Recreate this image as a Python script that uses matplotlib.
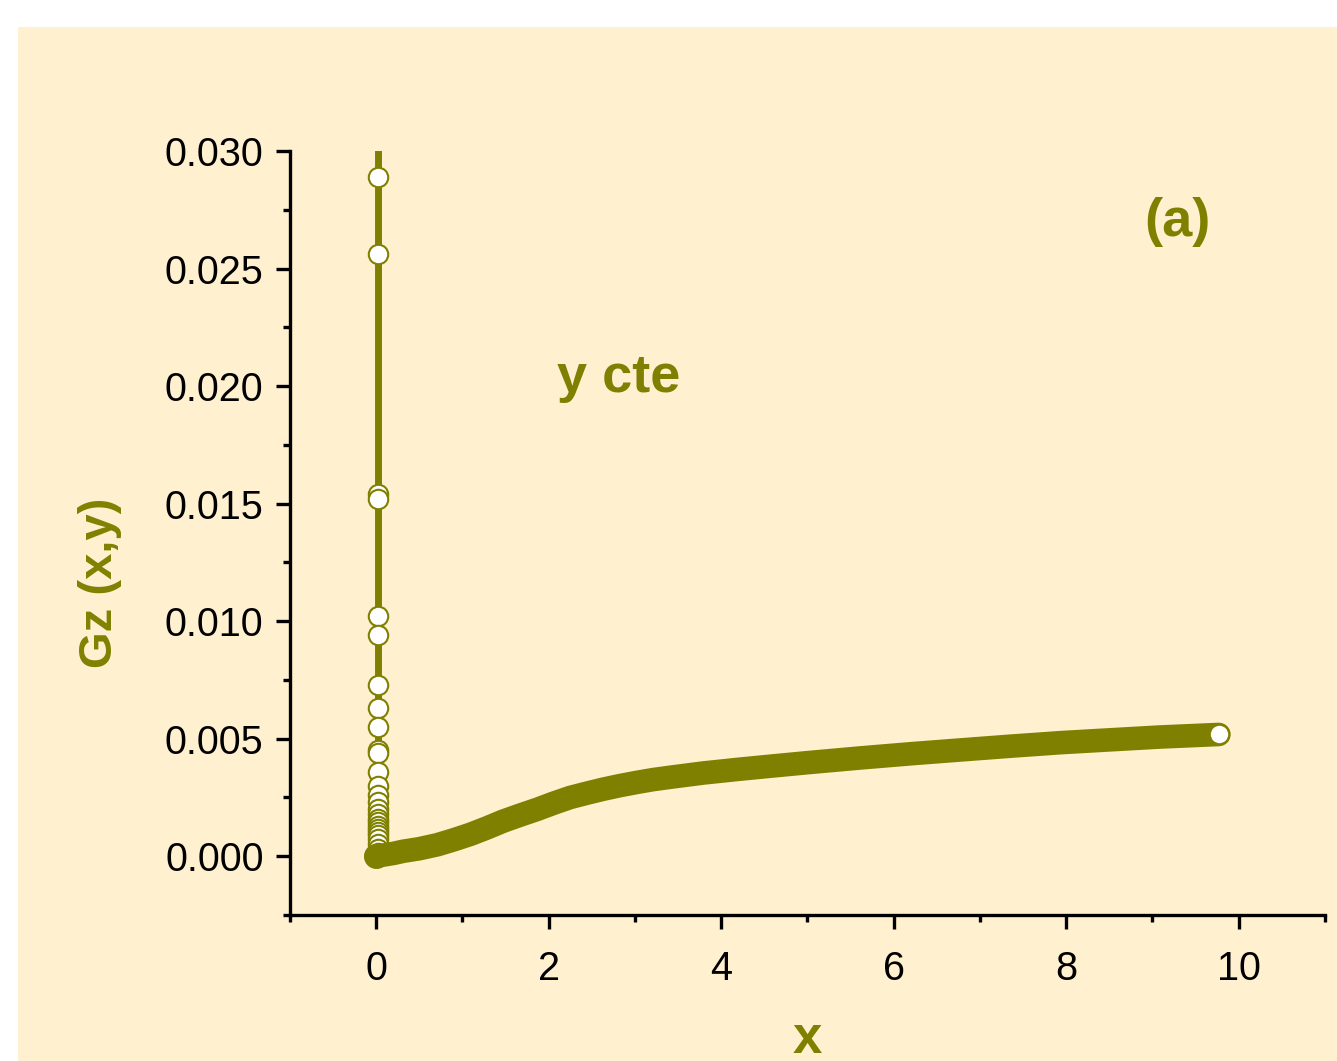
import matplotlib
matplotlib.use("Agg")
import matplotlib.pyplot as plt
from matplotlib.patches import Rectangle

# Gz(x, y) at constant y: the near-x=0 branch and the long-x branch
branch_x0 = 0.02
branch_y = [0.0322, 0.0289, 0.0256, 0.0154, 0.0152, 0.0102, 0.0094, 0.0073,
            0.0063, 0.0055, 0.0045, 0.0044, 0.0036, 0.0030, 0.0026, 0.0023,
            0.0020, 0.00178, 0.00157, 0.00144, 0.00127, 0.00115, 0.00102,
            0.0009, 0.00072, 0.0005, 0.0003, 0.00015, 0.0]

curve_x = [0.0, 0.1, 0.2, 0.31, 0.5, 0.71, 0.9, 1.09, 1.28, 1.47, 1.67, 1.87,
           2.06, 2.25, 2.44, 2.63, 2.82, 3.02, 3.21, 3.41, 3.6, 3.79, 4.0,
           4.18, 4.57, 5.0, 5.61, 6.2, 6.77, 7.35, 7.93, 8.5, 9.08, 9.77]
curve_y = [0.0, 0.00006, 0.00012, 0.00021, 0.00032, 0.00049, 0.0007, 0.00093,
           0.0012, 0.00149, 0.00175, 0.0020, 0.00226, 0.0025, 0.00268,
           0.00285, 0.0030, 0.00314, 0.00326, 0.00336, 0.00345, 0.00354,
           0.00362, 0.00369, 0.00383, 0.00398, 0.00418, 0.00436, 0.00452,
           0.00468, 0.00483, 0.00495, 0.00507, 0.00518]

xticks = [0, 2, 4, 6, 8, 10]
yticks = [0.000, 0.005, 0.010, 0.015, 0.020, 0.025, 0.030]

olive = "#808000"
cream = "#FFF0CF"

plt.rcParams["font.family"] = ["Liberation Sans", "DejaVu Sans"]

fig = plt.figure(figsize=(13.37, 10.61), dpi=100)
fig.patch.set_facecolor("white")
fig.patches.append(Rectangle((18 / 1337, 0), 1, 1 - 27 / 1061,
                             transform=fig.transFigure, facecolor=cream,
                             edgecolor="none", zorder=-10))

ax = fig.add_axes([0.2169, 0.1376, 0.7741, 0.7201])
ax.set_facecolor("none")

# near-zero branch: thin line with open circles
ax.plot([branch_x0] * len(branch_y), branch_y, color=olive, lw=5.0,
        marker="o", ms=14, mfc="white", mec=olive, mew=1.5, zorder=3)

# long-x branch: dense filled points, shown as a thick band
ax.plot(curve_x, curve_y, color=olive, lw=17, solid_capstyle="round",
        solid_joinstyle="round", zorder=4)
ax.plot(curve_x[0], curve_y[0], "o", color=olive, ms=17, zorder=4)
ax.plot(curve_x[-1], curve_y[-1], "o", ms=14, mfc="white", mec=olive,
        mew=1.5, zorder=5)

ax.set_xlim(-1, 11)
ax.set_ylim(-0.0025, 0.030)
ax.set_xticks(xticks)
ax.set_xticks([-1, 1, 3, 5, 7, 9, 11], minor=True)
ax.set_yticks(yticks)
ax.set_yticklabels([f"{v:.3f}" for v in yticks])
ax.set_yticks([-0.0025 + 0.005 * i for i in range(7)], minor=True)

for side in ("top", "right"):
    ax.spines[side].set_visible(False)
for side in ("left", "bottom"):
    ax.spines[side].set_linewidth(2.4)

ax.tick_params(which="major", length=10, width=2.4, labelsize=28.5, pad=9)
ax.tick_params(which="minor", length=5, width=2.4)
ax.tick_params(axis="x", which="major", pad=15)

ax.set_xlabel("x", fontsize=38, fontweight="bold", color=olive)
ax.xaxis.set_label_coords(0.5, -0.162)
ax.xaxis.label.set_va("center")
ax.set_ylabel("Gz (x,y)", fontsize=34, fontweight="bold", color=olive)
ax.yaxis.set_label_coords(-0.184, 0.435)
ax.yaxis.label.set_va("center")

ax.text(2.1, 0.01976, "y cte", fontsize=39, fontweight="bold", color=olive,
        va="baseline", ha="left")
ax.text(8.91, 0.0270, "(a)", fontsize=39, fontweight="bold", color=olive,
        va="center", ha="left")

fig.savefig("out.png", dpi=100)
